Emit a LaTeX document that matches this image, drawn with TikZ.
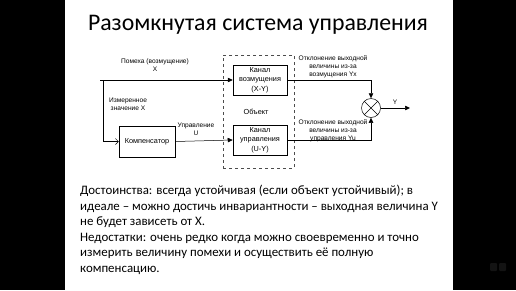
\documentclass[tikz,border=0pt]{standalone}
\usepackage{fontspec}
\setmainfont{Carlito}
\newfontfamily\diafont{Liberation Sans}
\usetikzlibrary{arrows.meta}
\begin{document}
\begin{tikzpicture}[x=1pt,y=-1pt,
  blk/.style={draw, line width=0.5pt, minimum width=54pt, minimum height=30pt, align=center, inner sep=1pt, font=\diafont\fontsize{7.3}{9.5}\selectfont},
  lbl/.style={align=center, inner sep=0pt, font=\diafont\fontsize{6.6}{8}\selectfont},
  conn/.style={line width=0.5pt},
  arr/.style={conn, -{Triangle[length=5pt,width=4.5pt]}},
  openarr/.style={conn, -{Straight Barb[length=3pt,width=6pt]}}]
\fill[black] (0,0) rectangle (516,290);
\fill[white] (65,0) rectangle (453,290);
\useasboundingbox (0,0) rectangle (516,290);
% title
\node[font=\fontsize{23.8}{28}\selectfont, inner sep=0pt] (title) at (258,24.5) {Разомкнутая система управления};
% object (dashed)
\node[draw, dashed, gray!60!black, line width=0.5pt, minimum width=71pt, minimum height=113pt] (obj) at (258.5,111.5) {};
\node[font=\diafont\fontsize{7.3}{9}\selectfont] (objlbl) at (256,112) {Объект};
% blocks
\node[blk] (dist) at (260,80) {Канал\\возмущения\\(X-Y)};
\node[blk] (ctrl) at (260,140) {Канал\\управления\\(U-Y)};
\node[blk, minimum width=56pt, minimum height=31pt] (comp) at (147,141.5) {Компенсатор};
\node[draw, circle, line width=0.5pt, minimum size=19pt, inner sep=0pt] (sum) at (371,108) {};
\draw[conn] (sum.north east) -- (sum.south west) (sum.north west) -- (sum.south east);
% coordinates
\coordinate (start) at (100,80);
\coordinate (branch) at (103,80);
\coordinate (yend) at (410,108);
% connectors
\draw[arr] (start) -- (dist.west);
\draw[openarr] (branch) |- (comp.west);
\draw[arr] (comp.east) -- (ctrl.west);
\draw[arr] (dist.east) -| (sum.north);
\draw[arr] (ctrl.east) -| (sum.south);
\draw[arr] (sum.east) -- (yend);
% labels
\node[lbl] (lx) at (155,65) {Помеха (возмущение)\\X};
\node[lbl] (lm) at (128,104) {Измеренное\\значение X};
\node[lbl] (lu) at (196,129) {Управление\\U};
\node[lbl] (lyx) at (333,67) {Отклонение выходной\\величины из-за\\возмущения Yx};
\node[lbl] (lyu) at (333,131) {Отклонение выходной\\величины из-за\\управления Yu};
\node[lbl] (ly) at (395,102) {Y};
% bottom text
\node[anchor=north west, align=left, inner sep=0pt, font=\fontsize{12.9}{15.5}\selectfont] (txt) at (80,185)
{Достоинства: всегда устойчивая (если объект устойчивый); в\\
идеале – можно достичь инвариантности – выходная величина Y\\
не будет зависеть от X.\\
Недостатки: очень редко когда можно своевременно и точно\\
измерить величину помехи и осуществить её полную\\
компенсацию.};
% player icons
\fill[gray!15!black, rounded corners=1pt] (490,263) rectangle (497,271);
\fill[gray!15!black, rounded corners=1pt] (499,263) rectangle (506,271);
\end{tikzpicture}
\end{document}
